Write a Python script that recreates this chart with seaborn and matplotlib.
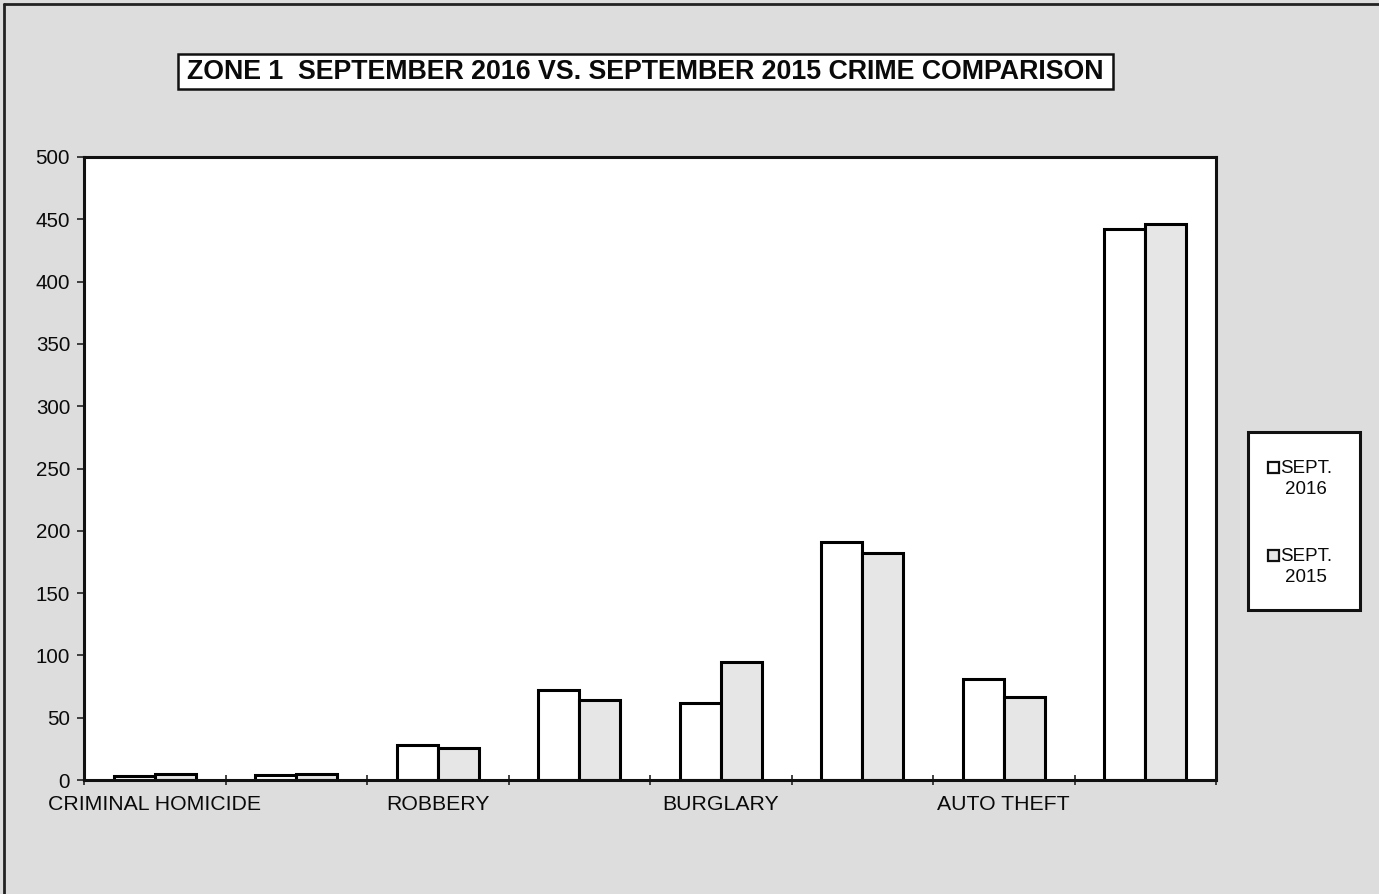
import numpy as np
import pandas as pd
import matplotlib
matplotlib.use('Agg')
import matplotlib.pyplot as plt
import seaborn as sns
from matplotlib.patches import Rectangle
from matplotlib.lines import Line2D
from matplotlib.ticker import FixedLocator

# chart data
categories = ['CRIMINAL HOMICIDE', 'RAPE', 'ROBBERY', 'AGGRAVATED ASSAULT',
              'BURGLARY', 'LARCENY', 'AUTO THEFT', 'TOTAL']
shown_labels = ['CRIMINAL HOMICIDE', '', 'ROBBERY', '', 'BURGLARY', '', 'AUTO THEFT', '']
sept_2016 = [3, 4, 28, 72, 62, 191, 81, 442]
sept_2015 = [5, 5, 26, 64, 95, 182, 67, 446]
series_names = ['SEPT.\n2016', 'SEPT.\n2015']
bar_colors = ['white', '#e6e6e6']
y_ticks = [0, 50, 100, 150, 200, 250, 300, 350, 400, 450, 500]
title = 'ZONE 1  SEPTEMBER 2016 VS. SEPTEMBER 2015 CRIME COMPARISON'

df = pd.DataFrame({
    'crime': categories * 2,
    'period': [series_names[0]] * len(categories) + [series_names[1]] * len(categories),
    'count': sept_2016 + sept_2015,
})

sns.set_theme(style='white')
plt.rcParams['font.family'] = ['Liberation Sans', 'DejaVu Sans']

W, H = 1379, 894
fig = plt.figure(figsize=(W / 100, H / 100), dpi=100, facecolor='#dddddd')
ax = fig.add_axes([84 / W, 1 - 780 / H, (1216 - 84) / W, (780 - 157) / H])
ax.set_facecolor('white')

sns.barplot(data=df, x='crime', y='count', hue='period',
            palette=bar_colors, saturation=1, legend=False,
            edgecolor='black', linewidth=2.2, width=0.58, ax=ax)

# axes styling
ax.set_xlabel('')
ax.set_ylabel('')
ax.set_ylim(0, 500)
ax.set_xlim(-0.5, len(categories) - 0.5)
ax.set_yticks(y_ticks)
ax.set_xticks(range(len(categories)))
ax.set_xticklabels(shown_labels)
ax.xaxis.set_minor_locator(FixedLocator(np.arange(-0.5, len(categories), 1)))
ax.tick_params(axis='x', which='major', bottom=False, length=0, pad=11,
               labelsize=15.3, labelcolor='#0a0a0a')
ax.tick_params(axis='x', which='minor', bottom=True, length=7,
               direction='inout', width=1.2, color='#222222')
ax.tick_params(axis='y', left=True, direction='out', length=5, width=1.2,
               labelsize=14.8, pad=5, color='#222222', labelcolor='#0a0a0a')
for side in ['left', 'right', 'top', 'bottom']:
    ax.spines[side].set_visible(True)
    ax.spines[side].set_color('#111111')
    ax.spines[side].set_linewidth(2.2)

# legend box at the right, entries drawn by hand so the marker sits by the first line
fig.add_artist(Rectangle((1248 / W, 1 - 610 / H), 112 / W, 178 / H,
                         transform=fig.transFigure, facecolor='white',
                         edgecolor='#111111', linewidth=2.2))
for i, (name, color) in enumerate(zip(series_names, bar_colors)):
    y0 = 468 + i * 88
    fig.add_artist(Rectangle((1268 / W, 1 - (y0 + 5) / H), 11 / W, 11 / H,
                             transform=fig.transFigure, facecolor=color,
                             edgecolor='#111111', linewidth=1.6))
    fig.text(1306 / W, 1 - (y0 - 8) / H, name, ha='center', va='top',
             multialignment='center', fontsize=13.5, linespacing=1.3,
             color='#0a0a0a')

# boxed title
fig.add_artist(Rectangle((178 / W, 1 - 89 / H), (1113 - 178) / W, 35 / H,
                         transform=fig.transFigure, facecolor='white',
                         edgecolor='#111111', linewidth=1.8))
fig.text(645.5 / W, 1 - 72 / H, title, ha='center', va='center',
         fontsize=19.3, fontweight='bold', color='#0a0a0a')

# outer frame of the scanned page
fig.add_artist(Line2D([4 / W, 4 / W], [0, 1 - 4 / H], transform=fig.transFigure,
                      color='#222222', linewidth=2))
fig.add_artist(Line2D([4 / W, 1], [1 - 4 / H, 1 - 4 / H], transform=fig.transFigure,
                      color='#222222', linewidth=2))

fig.savefig('out.png', dpi=100, facecolor=fig.get_facecolor())
